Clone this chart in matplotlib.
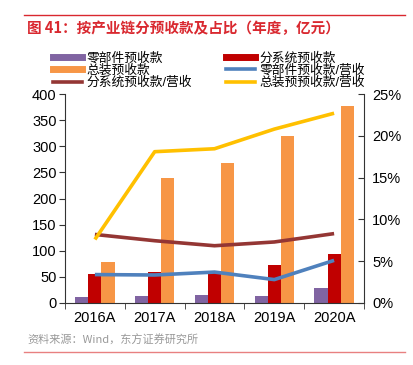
import matplotlib
matplotlib.use("Agg")
import matplotlib.pyplot as plt
import numpy as np
from matplotlib.lines import Line2D

plt.rcParams['font.family'] = ['Liberation Sans', 'Noto Sans CJK SC', 'DejaVu Sans']

years = ['2016A', '2017A', '2018A', '2019A', '2020A']
parts = [12, 14, 16, 14, 29]
subsys = [56, 60, 57, 72, 94]
assembly = [79, 240, 268, 320, 377]
parts_ratio = [3.4, 3.35, 3.7, 2.8, 5.1]
subsys_ratio = [8.2, 7.45, 6.85, 7.3, 8.3]
assembly_ratio = [7.6, 18.1, 18.45, 20.8, 22.7]

c_purple = '#8064A2'
c_red = '#C00000'
c_orange = '#F79646'
c_blue = '#4F81BD'
c_brown = '#943634'
c_yellow = '#FFC000'

fig = plt.figure(figsize=(4.13, 3.65), dpi=100)
ax = fig.add_axes([65/413, 62/365, 299/413, 209/365])
x = np.arange(len(years))
w = 0.22
ax.bar(x - w, parts, w, color=c_purple, zorder=2)
ax.bar(x, subsys, w, color=c_red, zorder=2)
ax.bar(x + w, assembly, w, color=c_orange, zorder=2)
ax.set_ylim(0, 400)
ax.set_xlim(-0.5, 4.5)
ax.set_yticks(range(0, 401, 50))
ax.set_xticks(x)
ax.set_xticklabels(years)
ax.set_xticks(np.arange(-0.5, 5, 1), minor=True)
ax.tick_params(axis='x', which='major', length=0, labelsize=10.5, pad=6)
ax.tick_params(axis='x', which='minor', length=4, direction='out', color='#333333')
ax.tick_params(axis='y', length=4, direction='out', labelsize=10.5, color='#333333', pad=2)
for s in ['top', 'right']:
    ax.spines[s].set_visible(False)
ax.spines['left'].set_color('#333333')
ax.spines['bottom'].set_color('#333333')

ax2 = ax.twinx()
ax2.plot(x, parts_ratio, color=c_blue, lw=2.6, solid_capstyle='butt')
ax2.plot(x, subsys_ratio, color=c_brown, lw=2.6, solid_capstyle='butt')
ax2.plot(x, assembly_ratio, color=c_yellow, lw=2.6, solid_capstyle='butt')
ax2.set_ylim(0, 25)
ax2.set_yticks(range(0, 26, 5))
ax2.set_yticklabels([f'{v}%' for v in range(0, 26, 5)])
ax2.tick_params(axis='y', length=4, direction='in', labelsize=10.5, color='#333333', pad=6)
for s in ['top', 'left', 'bottom']:
    ax2.spines[s].set_visible(False)
ax2.spines['right'].set_color('#333333')

handles = [
    Line2D([], [], color=c_purple, lw=5),
    Line2D([], [], color=c_orange, lw=5),
    Line2D([], [], color=c_brown, lw=2.6),
    Line2D([], [], color=c_red, lw=5),
    Line2D([], [], color=c_blue, lw=2.6),
    Line2D([], [], color=c_yellow, lw=2.6),
]
labels = ['零部件预收款', '总装预收款', '分系统预收款/营收',
          '分系统预收款', '零部件预收款/营收', '总装预预收款/营收']
fig.legend(handles, labels, ncol=2, loc='upper left', bbox_to_anchor=(53/413, 1 - 52/365),
           frameon=False, fontsize=9.2, handlelength=2.3, handletextpad=0.35,
           labelspacing=0.0, columnspacing=2.6, borderaxespad=0, borderpad=0)

fig.add_artist(Line2D([24/413, 405/413], [1 - 15/365, 1 - 15/365], color='#D9282F', lw=1))
fig.text(27/413, 1 - 28/365, '图 41：按产业链分预收款及占比（年度，亿元）', color='#D9282F',
         fontsize=10.5, fontweight='bold', va='center', ha='left',
         family=['Noto Sans CJK SC', 'DejaVu Sans'])
fig.text(27/413, 1 - 340/365, '资料来源：Wind，东方证券研究所', color='#999999',
         fontsize=8, va='center', ha='left', family=['Noto Sans CJK SC', 'DejaVu Sans'])
fig.add_artist(Line2D([24/413, 405/413], [1 - 352/365, 1 - 352/365], color='#E88080', lw=1))

fig.savefig('out.png', dpi=100)
